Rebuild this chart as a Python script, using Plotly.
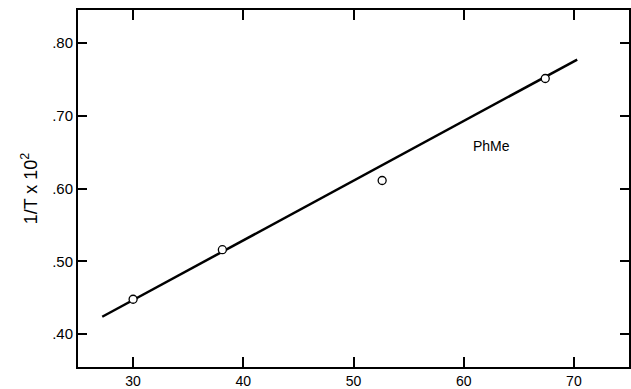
import plotly.graph_objects as go

# data
temp_x = [30.0, 38.1, 52.6, 67.4]
inv_t = [0.448, 0.516, 0.611, 0.751]
fit_x = [27.2, 70.3]
fit_y = [0.424, 0.777]
x_ticks = [30, 40, 50, 60, 70]
y_ticks = [0.40, 0.50, 0.60, 0.70, 0.80]
y_tick_text = [".40", ".50", ".60", ".70", ".80"]
label_text = "PhMe"

fig = go.Figure()
fig.add_trace(go.Scatter(x=fit_x, y=fit_y, mode="lines",
                         line=dict(color="black", width=2.5), showlegend=False))
fig.add_trace(go.Scatter(x=temp_x, y=inv_t, mode="markers",
                         marker=dict(symbol="circle", size=8, color="white",
                                     line=dict(color="black", width=1.3)),
                         showlegend=False))
fig.add_annotation(x=62.5, y=0.659, text=label_text, showarrow=False,
                   font=dict(family="Liberation Sans, Arial", size=14, color="black"))

font = dict(family="Liberation Sans, Arial", size=15, color="black")
fig.update_layout(
    width=631, height=389,
    margin=dict(l=78, r=2, t=10, b=22),
    paper_bgcolor="white", plot_bgcolor="white",
    font=font,
    xaxis=dict(range=[25, 75], tickvals=x_ticks, ticks="inside", ticklen=10,
               tickwidth=1.5, tickcolor="black", showline=True, linewidth=2,
               linecolor="black", mirror="ticks", showgrid=False, zeroline=False,
               tickfont=dict(family="Liberation Sans, Arial", size=14, color="black"),
               automargin=False),
    yaxis=dict(range=[0.355, 0.845], tickvals=y_ticks, ticktext=y_tick_text,
               ticks="inside", ticklen=9, tickwidth=2, tickcolor="black",
               showline=True, linewidth=2, linecolor="black", mirror="ticks",
               showgrid=False, zeroline=False, tickfont=font, automargin=False,
               title=dict(text="1/T x 10<sup>2</sup>",
                          font=dict(family="Liberation Sans, Arial", size=18),
                          standoff=10)),
)
fig.write_html("out.html", config={"displayModeBar": False},
               post_script="document.body.style.margin='0';document.body.style.overflow='hidden';")
